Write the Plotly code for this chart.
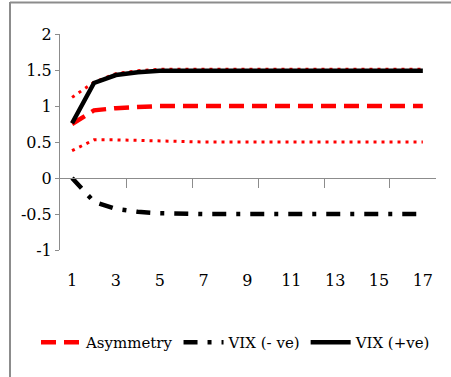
import plotly.graph_objects as go

periods = list(range(1, 18))
asym = [0.75, 0.94, 0.97, 0.99, 1.0, 1.0, 1.0, 1.0, 1.0, 1.0, 1.0, 1.0, 1.0, 1.0, 1.0, 1.0, 1.0]
asym_upper = [1.12, 1.33, 1.45, 1.49, 1.51, 1.51, 1.51, 1.51, 1.51, 1.51, 1.51, 1.51, 1.51, 1.51, 1.51, 1.51, 1.51]
asym_lower = [0.38, 0.53, 0.53, 0.52, 0.51, 0.5, 0.5, 0.5, 0.5, 0.5, 0.5, 0.5, 0.5, 0.5, 0.5, 0.5, 0.5]
vix_neg = [0.0, -0.33, -0.43, -0.47, -0.49, -0.5, -0.5, -0.5, -0.5, -0.5, -0.5, -0.5, -0.5, -0.5, -0.5, -0.5, -0.5]
vix_pos = [0.76, 1.32, 1.43, 1.47, 1.49, 1.49, 1.49, 1.49, 1.49, 1.49, 1.49, 1.49, 1.49, 1.49, 1.49, 1.49, 1.49]
x_ticklabels = [1, 3, 5, 7, 9, 11, 13, 15, 17]
y_ticks = [-1, -0.5, 0, 0.5, 1, 1.5, 2]
y_ticklabels = ["-1", "-0.5", "0", "0.5", "1", "1.5", "2"]
axis_ticks = [3.5, 6.5, 9.5, 12.5, 15.5]

RED = "#ff0000"
FONT = "DejaVu Serif"
FS = 16
LEG_FS = 15

fig = go.Figure()
fig.add_trace(go.Scatter(x=periods, y=asym_upper, mode="lines", showlegend=False,
                         line=dict(color=RED, width=3, dash="3px,5px")))
fig.add_trace(go.Scatter(x=periods, y=asym_lower, mode="lines", showlegend=False,
                         line=dict(color=RED, width=3, dash="3px,5px")))
fig.add_trace(go.Scatter(x=periods, y=asym, mode="lines", name="Asymmetry",
                         line=dict(color=RED, width=4.5, dash="15px,8px")))
fig.add_trace(go.Scatter(x=periods, y=vix_neg, mode="lines", name="VIX (- ve)",
                         line=dict(color="black", width=4.5, dash="14px,10px,4px,10px")))
fig.add_trace(go.Scatter(x=periods, y=vix_pos, mode="lines", name="VIX (+ve)",
                         line=dict(color="black", width=4.5)))
# invisible trace to build the y=0 category axis line
fig.add_trace(go.Scatter(x=periods, y=[None] * len(periods), xaxis="x2", showlegend=False,
                         hoverinfo="skip"))

L, R, T, B = 60, 15, 34, 127
W, H = 451, 377
pw, ph = W - L - R, H - T - B

def px_x(p):
    return (p - L) / pw

def px_y(p):
    return (H - B - p) / ph

fig.update_layout(
    width=W, height=H,
    margin=dict(l=L, r=R, t=T, b=B),
    paper_bgcolor="white", plot_bgcolor="white",
    font=dict(family=FONT, size=FS, color="black"),
    xaxis=dict(range=[0.45, 17.6], tickvals=x_ticklabels, ticktext=[str(v) for v in x_ticklabels],
               showline=False, showgrid=False, zeroline=False, ticks="",
               ticklabelstandoff=19, tickfont=dict(size=FS, family=FONT)),
    xaxis2=dict(range=[0.45, 17.6], overlaying="x", anchor="free", position=1/3,
                showline=True, linecolor="#8c8c8c", linewidth=1,
                tickvals=axis_ticks, ticks="outside", ticklen=9, tickcolor="#8c8c8c",
                showticklabels=False, showgrid=False, zeroline=False),
    yaxis=dict(range=[-1, 2], tickvals=y_ticks, ticktext=y_ticklabels,
               showline=True, linecolor="#8c8c8c", linewidth=1,
               ticks="outside", ticklen=4, tickcolor="#8c8c8c",
               showgrid=False, zeroline=False, tickfont=dict(size=FS, family=FONT)),
    legend=dict(orientation="h", x=px_x(36), y=px_y(326), xanchor="left", yanchor="top",
                font=dict(size=LEG_FS, family=FONT), itemwidth=40, tracegroupgap=0,
                bgcolor="rgba(0,0,0,0)"),
    shapes=[
        dict(type="line", xref="paper", yref="paper", x0=px_x(10), x1=px_x(451),
             y0=px_y(2.5), y1=px_y(2.5), line=dict(color="#8c8c8c", width=2)),
        dict(type="line", xref="paper", yref="paper", x0=px_x(10), x1=px_x(10),
             y0=px_y(2), y1=px_y(377), line=dict(color="#8c8c8c", width=2)),
    ],
)

fig.write_html("out.html")
